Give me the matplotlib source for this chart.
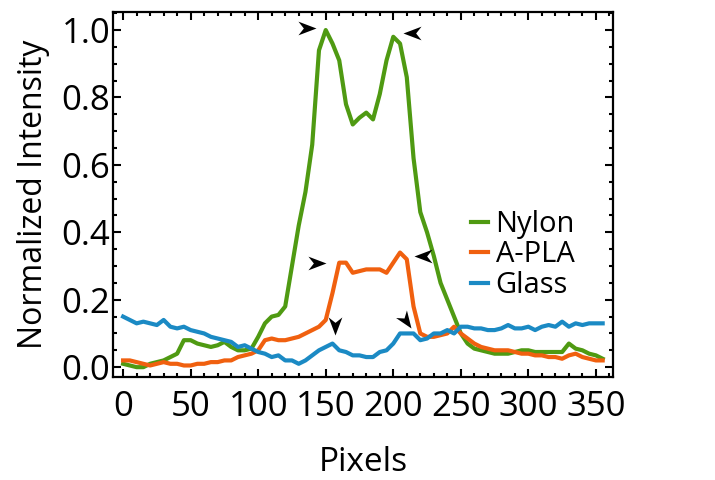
import numpy as np
import matplotlib
matplotlib.use('Agg')
import matplotlib.pyplot as plt
from matplotlib.path import Path
from matplotlib.ticker import MultipleLocator

# pixel positions along the line profile
pixels = list(range(0, 360, 5))

nylon = [0.01, 0.005, 0.0, 0.0, 0.01, 0.015, 0.02, 0.03, 0.04, 0.08,
         0.08, 0.07, 0.065, 0.06, 0.065, 0.075, 0.06, 0.05, 0.05, 0.055,
         0.09, 0.13, 0.15, 0.155, 0.18, 0.30, 0.42, 0.52, 0.66, 0.94,
         1.0, 0.96, 0.91, 0.78, 0.72, 0.74, 0.755, 0.735, 0.81, 0.91,
         0.98, 0.96, 0.86, 0.62, 0.46, 0.40, 0.33, 0.25, 0.20, 0.15,
         0.10, 0.07, 0.055, 0.05, 0.045, 0.04, 0.04, 0.04, 0.045, 0.05,
         0.05, 0.045, 0.045, 0.045, 0.045, 0.045, 0.07, 0.055, 0.05, 0.04,
         0.035, 0.025]

apla = [0.02, 0.02, 0.015, 0.01, 0.005, 0.01, 0.015, 0.01, 0.01, 0.005,
        0.005, 0.01, 0.01, 0.015, 0.015, 0.02, 0.02, 0.03, 0.035, 0.04,
        0.05, 0.08, 0.085, 0.08, 0.08, 0.085, 0.09, 0.10, 0.11, 0.12,
        0.14, 0.22, 0.31, 0.31, 0.28, 0.285, 0.29, 0.29, 0.29, 0.28,
        0.31, 0.34, 0.32, 0.18, 0.10, 0.09, 0.09, 0.095, 0.10, 0.12,
        0.10, 0.085, 0.07, 0.06, 0.055, 0.05, 0.05, 0.05, 0.045, 0.04,
        0.04, 0.035, 0.035, 0.03, 0.03, 0.025, 0.035, 0.04, 0.03, 0.025,
        0.02, 0.02]

glass = [0.15, 0.14, 0.13, 0.135, 0.13, 0.125, 0.14, 0.12, 0.115, 0.12,
         0.11, 0.105, 0.10, 0.09, 0.085, 0.08, 0.075, 0.06, 0.065, 0.055,
         0.045, 0.04, 0.03, 0.035, 0.02, 0.02, 0.01, 0.02, 0.035, 0.05,
         0.06, 0.07, 0.05, 0.045, 0.035, 0.035, 0.03, 0.03, 0.045, 0.05,
         0.07, 0.10, 0.10, 0.10, 0.08, 0.085, 0.10, 0.10, 0.11, 0.10,
         0.12, 0.12, 0.115, 0.115, 0.11, 0.11, 0.115, 0.125, 0.115, 0.115,
         0.12, 0.11, 0.12, 0.125, 0.12, 0.135, 0.12, 0.13, 0.125, 0.13,
         0.13, 0.13]

# arrowhead markers: (x, y, direction in degrees)
arrow_x = [143, 207, 150, 215, 157, 213]
arrow_y = [1.005, 0.99, 0.31, 0.33, 0.095, 0.115]
arrow_dir = [0, 180, 0, 180, -90, -55]

plt.rcParams['font.family'] = ['Open Sans', 'DejaVu Sans']

fig = plt.figure(figsize=(7.15, 4.8), dpi=100)
ax = fig.add_axes([0.158, 0.214, 0.70, 0.762])

ax.plot(pixels, nylon, color='#4f9a12', lw=3, label='Nylon')
ax.plot(pixels, apla, color='#f0600f', lw=3, label='A-PLA')
ax.plot(pixels, glass, color='#1b8ac4', lw=3, label='Glass')

# notched arrowhead pointing right, tip at origin
head = Path([(0, 0), (-1, 0.38), (-0.7, 0), (-1, -0.38), (0, 0)],
            [Path.MOVETO, Path.LINETO, Path.LINETO, Path.LINETO, Path.CLOSEPOLY])
for x, y, d in zip(arrow_x, arrow_y, arrow_dir):
    t = matplotlib.transforms.Affine2D().rotate_deg(d)
    ax.plot([x], [y], marker=head.transformed(t), ms=26, color='black', mew=0)

ax.set_xlim(-7.5, 363)
ax.set_ylim(-0.03, 1.055)
ax.xaxis.set_major_locator(MultipleLocator(50))
ax.xaxis.set_minor_locator(MultipleLocator(10))
ax.yaxis.set_major_locator(MultipleLocator(0.2))
ax.yaxis.set_minor_locator(MultipleLocator(0.05))
ax.yaxis.set_major_formatter(matplotlib.ticker.FormatStrFormatter('%.1f'))
ax.tick_params(which='both', direction='in', top=True, right=True, width=1.5, labelsize=25)
ax.tick_params(which='major', length=6)
ax.tick_params(which='minor', length=3)
ax.tick_params(axis='x', which='major', pad=9)
ax.tick_params(axis='y', which='major', pad=2)
for s in ax.spines.values():
    s.set_linewidth(1.6)

ax.set_xlabel('Pixels', fontsize=24, labelpad=16)
ax.set_ylabel('Normalized Intensity', fontsize=23, labelpad=8)

ax.legend(loc='center left', bbox_to_anchor=(0.715, 0.335), frameon=False,
          fontsize=21, handlelength=0.6, handletextpad=0.25, labelspacing=0.05,
          borderaxespad=0, borderpad=0)

fig.savefig('out.png', dpi=100)
